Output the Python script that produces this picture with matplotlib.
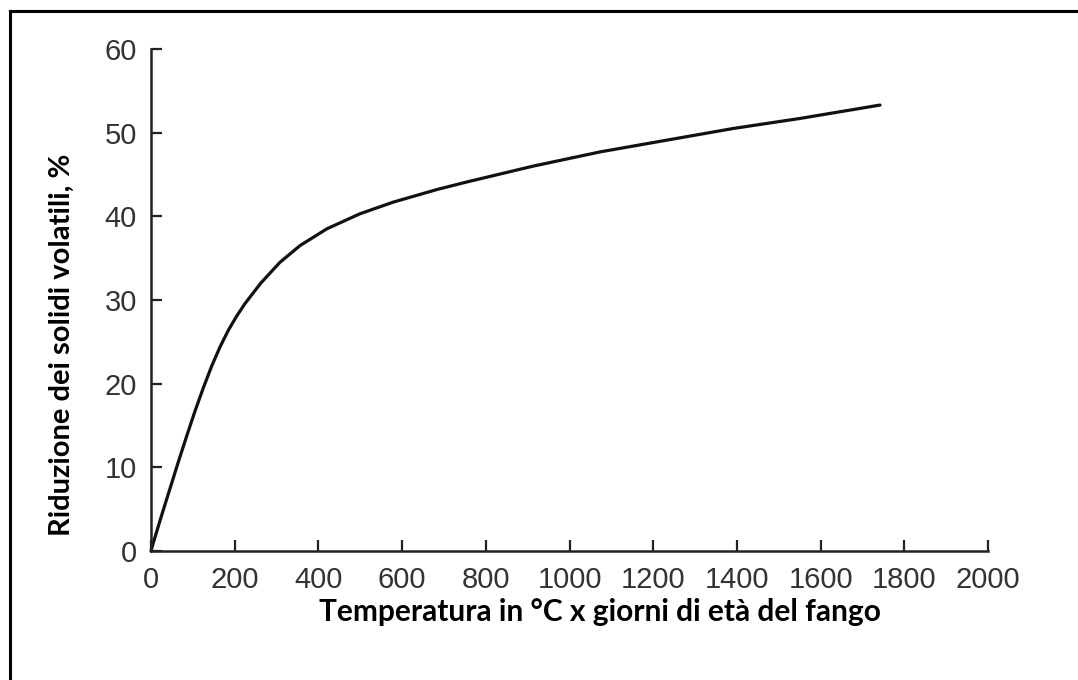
import matplotlib
matplotlib.use("Agg")
import matplotlib.pyplot as plt
from matplotlib.lines import Line2D

# Data
x_vals = [0, 5, 25, 45, 65, 85, 105, 125, 145, 165, 185, 205, 225, 262, 308, 356, 420, 499, 579, 683, 754, 913, 1073, 1232, 1391, 1551, 1742]
y_vals = [0, 0.9, 4.2, 7.4, 10.6, 13.7, 16.7, 19.5, 22.1, 24.4, 26.4, 28.1, 29.6, 32.0, 34.5, 36.5, 38.5, 40.3, 41.7, 43.2, 44.1, 46.0, 47.7, 49.1, 50.5, 51.7, 53.3]
x_ticks = [0, 200, 400, 600, 800, 1000, 1200, 1400, 1600, 1800, 2000]
y_ticks = [0, 10, 20, 30, 40, 50, 60]
x_label = "Temperatura in °C x giorni di età del fango"
y_label = "Riduzione dei solidi volatili, %"

W, H = 1078, 680
fig = plt.figure(figsize=(W / 100, H / 100), dpi=100)
fig.patch.set_facecolor("white")

ax = fig.add_axes([151 / W, 1 - 551 / H, (988 - 151) / W, (551 - 49) / H])
ax.plot(x_vals, y_vals, color="#111111", lw=2.3, solid_capstyle="round",
        solid_joinstyle="round", clip_on=False)

ax.set_xlim(0, 2000)
ax.set_ylim(0, 60)
ax.set_xticks(x_ticks)
ax.set_yticks(y_ticks)
for s in ["top", "right"]:
    ax.spines[s].set_visible(False)
for s in ["left", "bottom"]:
    ax.spines[s].set_linewidth(1.8)
    ax.spines[s].set_color("#222222")
ax.tick_params(axis="both", direction="in", length=8, width=1.6, color="#222222",
               labelsize=21, labelcolor="#333333")
ax.tick_params(axis="y", pad=10)
ax.tick_params(axis="x", pad=11)
for lab in ax.get_xticklabels() + ax.get_yticklabels():
    lab.set_fontfamily("Liberation Sans")

fig.text(600 / W, 1 - 612 / H, x_label, ha="center", va="center",
         fontsize=21.5, fontweight="bold", family="Lato", color="black")
fig.text(62 / W, 1 - 345 / H, y_label, ha="center", va="center", rotation=90,
         fontsize=21, fontweight="bold", family="Lato", color="black")

# outer frame (top and left edges visible)
fig.add_artist(Line2D([9.5 / W, 9.5 / W], [0, 1 - 10.5 / H], transform=fig.transFigure,
                      color="black", lw=2.2))
fig.add_artist(Line2D([9.5 / W, 1], [1 - 10.5 / H, 1 - 10.5 / H], transform=fig.transFigure,
                      color="black", lw=2.2))

fig.savefig("out.png", dpi=100, facecolor="white")
